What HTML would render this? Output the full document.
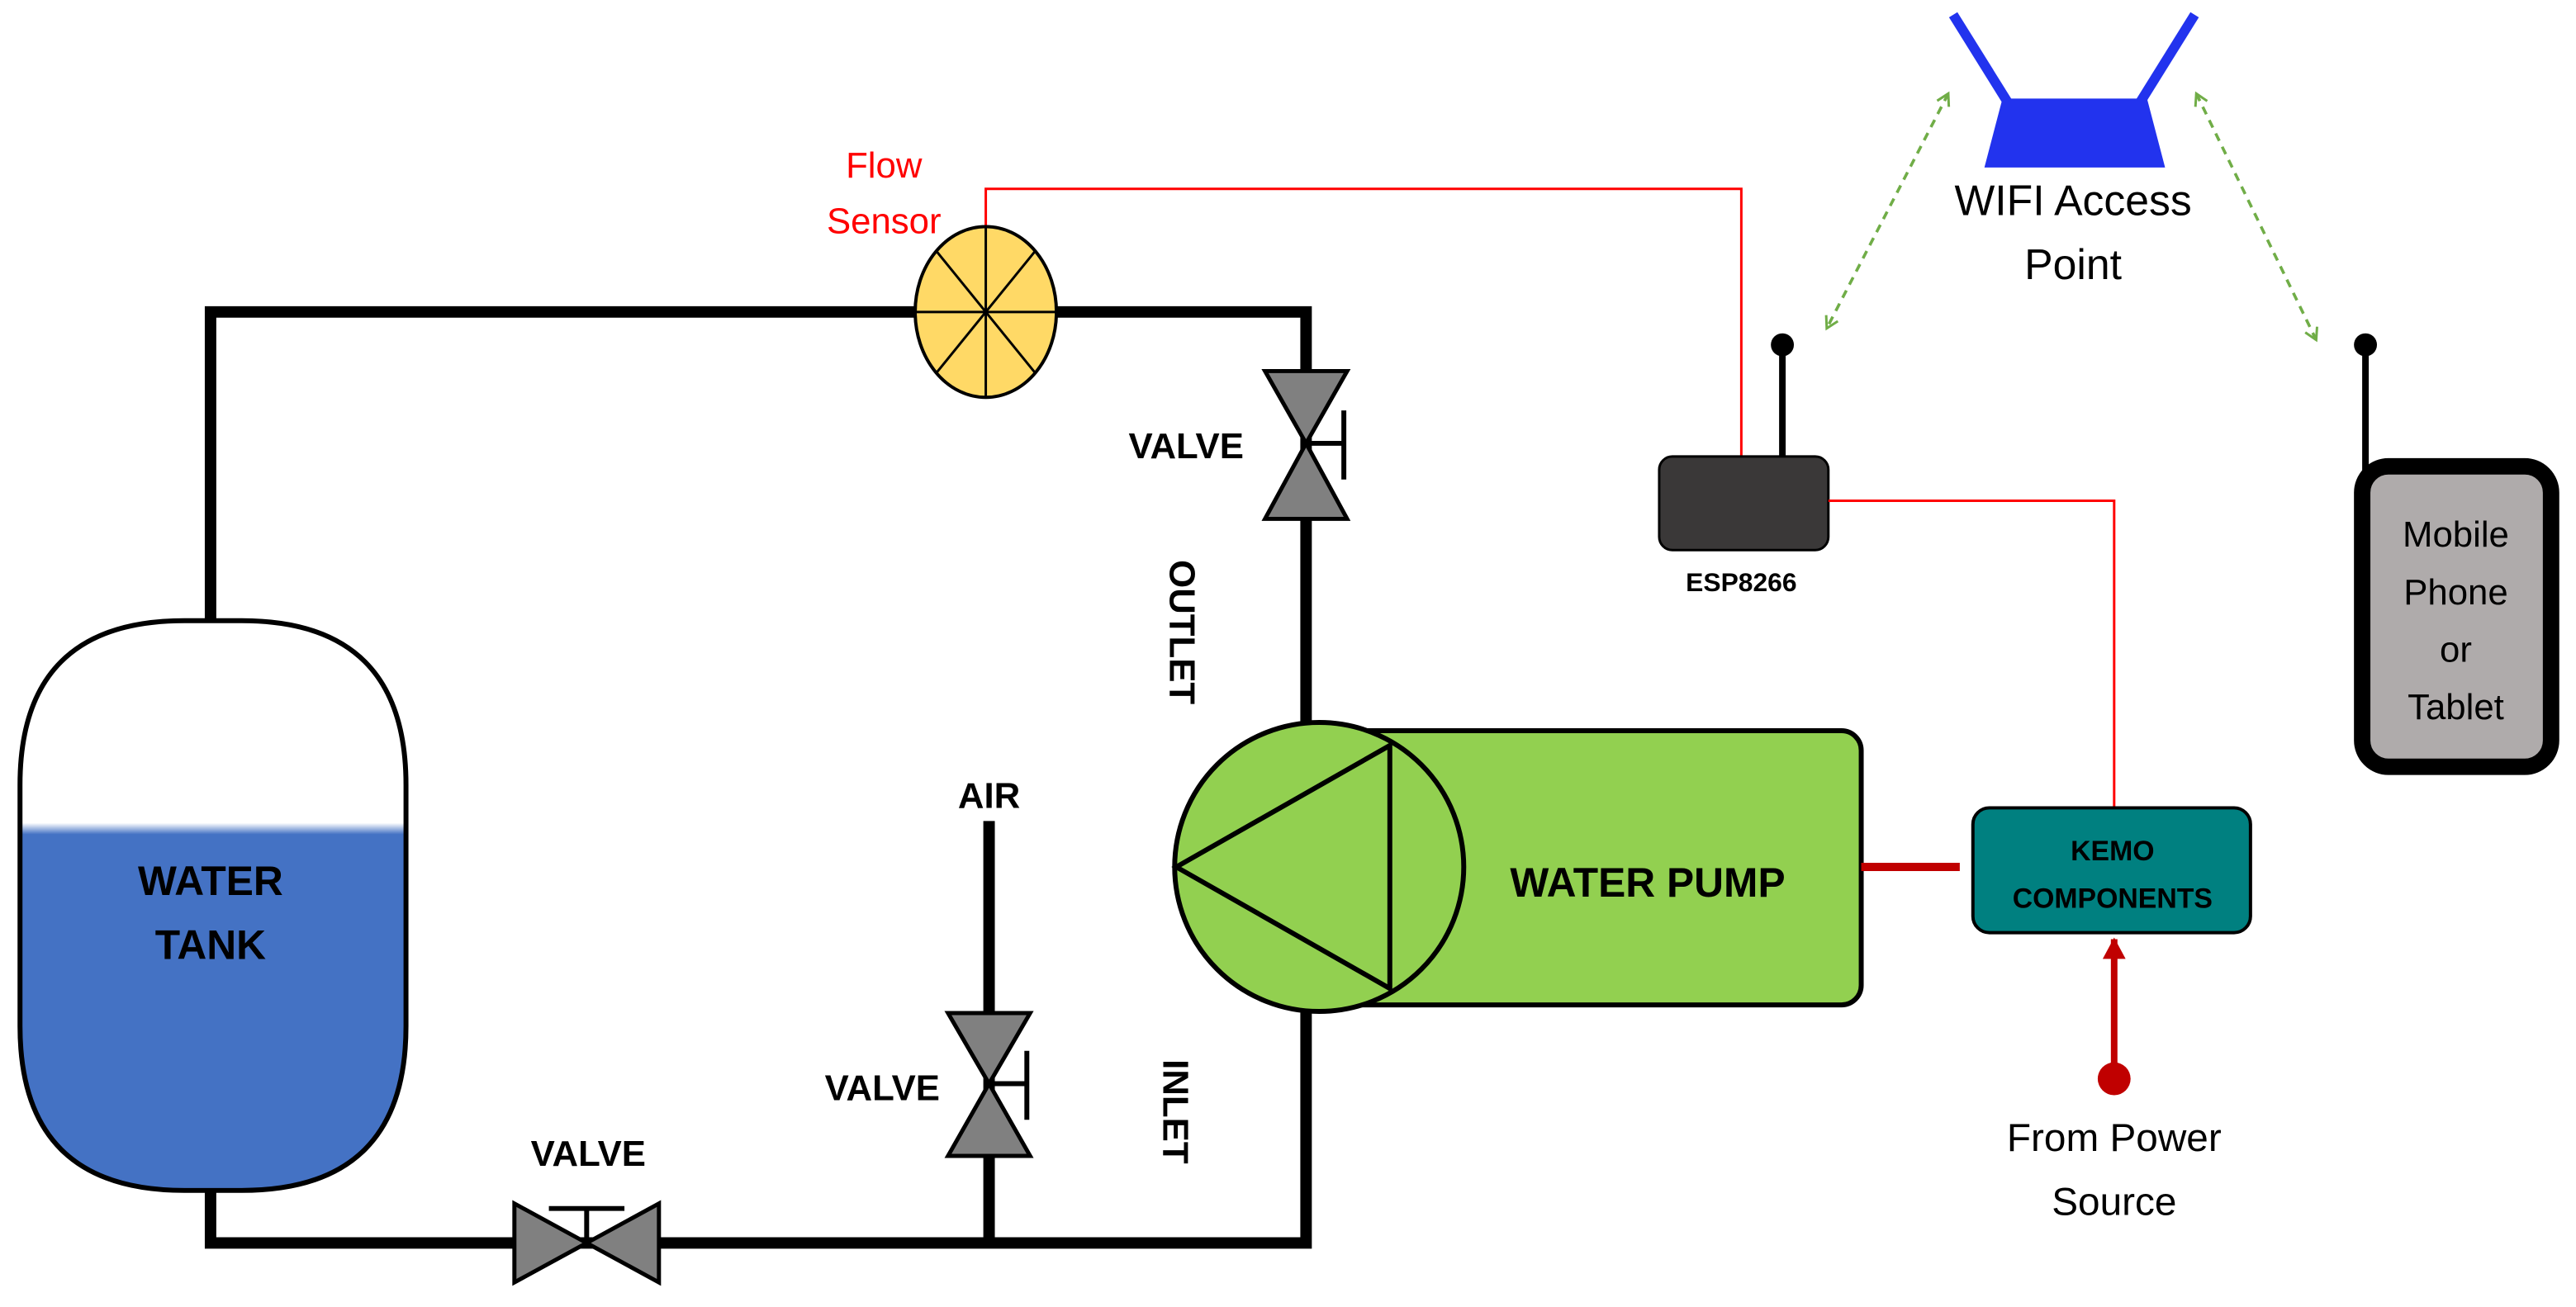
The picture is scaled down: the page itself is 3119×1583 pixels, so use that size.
<!DOCTYPE html>
<html><head><meta charset="utf-8"><style>html,body{margin:0;padding:0;background:#fff}svg{display:block}text{font-family:"Liberation Sans",sans-serif}</style></head>
<body>
<svg width="3119" height="1583" viewBox="0 0 1568 796" xmlns="http://www.w3.org/2000/svg">
<defs>
<linearGradient id="wg" x1="0" y1="0" x2="0" y2="1">
<stop offset="0" stop-color="#fff"/><stop offset="0.355" stop-color="#fff"/><stop offset="0.375" stop-color="#4472C4"/><stop offset="1" stop-color="#4472C4"/>
</linearGradient>
<marker id="ga" markerWidth="10" markerHeight="10" refX="8" refY="5" orient="auto-start-reverse" markerUnits="userSpaceOnUse"><path d="M1,1 L8,5 L1,9" fill="none" stroke="#70AD47" stroke-width="1.5"/></marker>
<marker id="ra" markerWidth="14" markerHeight="14" refX="12" refY="7" orient="auto" markerUnits="userSpaceOnUse"><path d="M0,0 L13,7 L0,14 Z" fill="#C00000"/></marker>
</defs>
<!-- pipes -->
<path d="M128,378 V190 H795 V757 H128 V725" fill="none" stroke="#000" stroke-width="7"/>
<line x1="602" y1="500" x2="602" y2="757" stroke="#000" stroke-width="7"/>
<!-- tank -->
<path d="M12,478 Q12,378 112,378 H147 Q247,378 247,478 V625 Q247,725 147,725 H112 Q12,725 12,625 Z" fill="url(#wg)" stroke="#000" stroke-width="3"/>
<text x="128" y="545" font-size="25" font-weight="bold" text-anchor="middle">WATER</text>
<text x="128" y="584" font-size="25" font-weight="bold" text-anchor="middle">TANK</text>
<!-- flow sensor -->
<path d="M600,138 V115 H1060 V278" fill="none" stroke="#FF0000" stroke-width="1.5"/>
<ellipse cx="600" cy="190" rx="43" ry="52" fill="#FFD966" stroke="#000" stroke-width="2"/>
<g stroke="#000" stroke-width="1.5"><line x1="557" y1="190" x2="643" y2="190"/><line x1="600" y1="138" x2="600" y2="242"/><line x1="570" y1="153" x2="630" y2="227"/><line x1="630" y1="153" x2="570" y2="227"/></g>
<text x="538" y="108" font-size="22" fill="#FF0000" text-anchor="middle">Flow</text>
<text x="538" y="142" font-size="22" fill="#FF0000" text-anchor="middle">Sensor</text>
<!-- top right valve -->
<g fill="#808080" stroke="#000" stroke-width="2.5"><path d="M770,226 H820 L795,270 Z"/><path d="M770,316 H820 L795,270 Z"/></g>
<path d="M795,270 H818 M818,250 V292" stroke="#000" stroke-width="3" fill="none"/>
<text x="722" y="279" font-size="22" font-weight="bold" text-anchor="middle">VALVE</text>
<text transform="translate(712,385) rotate(90)" font-size="22" font-weight="bold" text-anchor="middle">OUTLET</text>
<text transform="translate(708,677) rotate(90)" font-size="22" font-weight="bold" text-anchor="middle">INLET</text>
<!-- pump -->
<rect x="800" y="445" width="333" height="167" rx="12" fill="#92D050" stroke="#000" stroke-width="3"/>
<circle cx="803" cy="528" r="88" fill="#92D050" stroke="#000" stroke-width="3"/>
<path d="M716,528 L846,454 L846,602 Z" fill="none" stroke="#000" stroke-width="3"/>
<text x="1003" y="546" font-size="25" font-weight="bold" text-anchor="middle">WATER PUMP</text>
<!-- air valve -->
<text x="602" y="492" font-size="22" font-weight="bold" text-anchor="middle">AIR</text>
<g fill="#808080" stroke="#000" stroke-width="2.5"><path d="M577,617 H627 L602,660 Z"/><path d="M577,704 H627 L602,660 Z"/></g>
<path d="M602,660 H625 M625,640 V682" stroke="#000" stroke-width="3" fill="none"/>
<text x="537" y="670" font-size="22" font-weight="bold" text-anchor="middle">VALVE</text>
<!-- bottom valve -->
<g fill="#808080" stroke="#000" stroke-width="2.5"><path d="M313,733 V781 L357,757 Z"/><path d="M401,733 V781 L357,757 Z"/></g>
<path d="M357,757 V736 M334,736 H380" stroke="#000" stroke-width="3" fill="none"/>
<text x="358" y="710" font-size="22" font-weight="bold" text-anchor="middle">VALVE</text>
<!-- ESP -->
<line x1="1085" y1="278" x2="1085" y2="210" stroke="#000" stroke-width="4"/>
<circle cx="1085" cy="210" r="7" fill="#000"/>
<rect x="1010" y="278" width="103" height="57" rx="8" fill="#3A3838" stroke="#000" stroke-width="1.5"/>
<text x="1060" y="360" font-size="16" font-weight="bold" text-anchor="middle">ESP8266</text>
<path d="M1113,305 H1287 V492" fill="none" stroke="#FF0000" stroke-width="1.5"/>
<!-- KEMO -->
<line x1="1133" y1="528" x2="1193" y2="528" stroke="#C00000" stroke-width="5"/>
<rect x="1201" y="492" width="169" height="76" rx="10" fill="#008080" stroke="#000" stroke-width="2"/>
<text x="1286" y="524" font-size="17" font-weight="bold" text-anchor="middle">KEMO</text>
<text x="1286" y="553" font-size="17" font-weight="bold" text-anchor="middle">COMPONENTS</text>
<line x1="1287" y1="655" x2="1287" y2="572" stroke="#C00000" stroke-width="4" marker-end="url(#ra)"/>
<circle cx="1287" cy="657" r="10" fill="#C00000"/>
<text x="1287" y="701" font-size="24" text-anchor="middle">From Power</text>
<text x="1287" y="740" font-size="24" text-anchor="middle">Source</text>
<!-- WIFI -->
<path d="M1219,60 H1307 L1318,102 H1208 Z" fill="#2233EE"/>
<g stroke="#2233EE" stroke-width="6"><line x1="1222" y1="62" x2="1189" y2="9"/><line x1="1303" y1="62" x2="1336" y2="9"/></g>
<text x="1262" y="131" font-size="26" text-anchor="middle">WIFI Access</text>
<text x="1262" y="170" font-size="26" text-anchor="middle">Point</text>
<g stroke="#70AD47" stroke-width="1.8" stroke-dasharray="5,4" fill="none">
<line x1="1186" y1="57" x2="1112" y2="200" marker-start="url(#ga)" marker-end="url(#ga)"/>
<line x1="1337" y1="57" x2="1410" y2="207" marker-start="url(#ga)" marker-end="url(#ga)"/>
</g>
<!-- mobile -->
<line x1="1440" y1="210" x2="1440" y2="290" stroke="#000" stroke-width="4"/>
<circle cx="1440" cy="210" r="7" fill="#000"/>
<rect x="1438" y="284" width="115" height="183" rx="16" fill="#AFABAB" stroke="#000" stroke-width="10"/>
<text x="1495" y="333" font-size="22" text-anchor="middle">Mobile</text>
<text x="1495" y="368" font-size="22" text-anchor="middle">Phone</text>
<text x="1495" y="403" font-size="22" text-anchor="middle">or</text>
<text x="1495" y="438" font-size="22" text-anchor="middle">Tablet</text>
</svg>
</body></html>
